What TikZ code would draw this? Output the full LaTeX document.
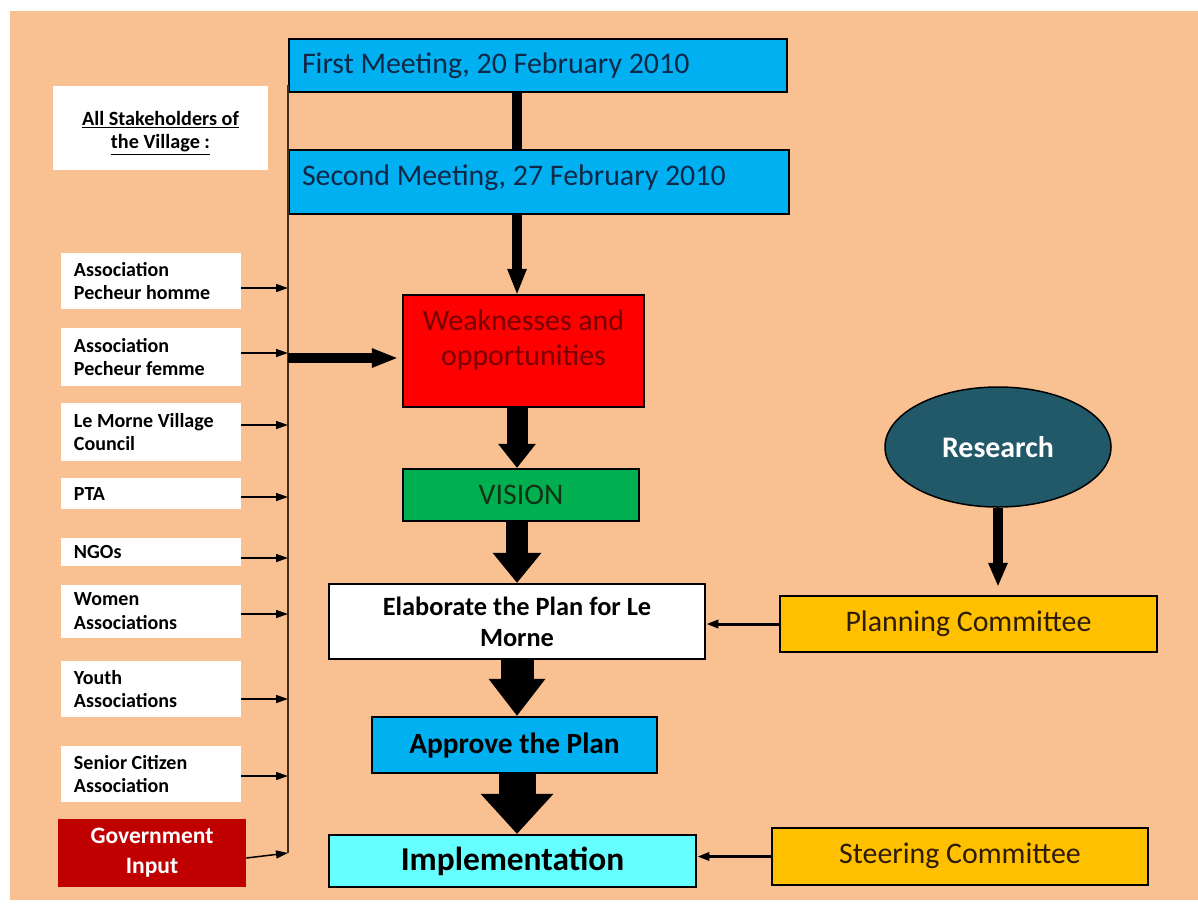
\documentclass[tikz,border=0pt]{standalone}
\usepackage{fontspec}
\setmainfont{Carlito}
\usepackage{tikz}
\usetikzlibrary{positioning,arrows.meta,shapes.geometric}
\usepackage{xcolor}
\definecolor{peach}{RGB}{249,192,145}
\definecolor{meetblue}{RGB}{0,176,240}
\definecolor{navytext}{RGB}{16,40,72}
\definecolor{weakred}{RGB}{255,0,0}
\definecolor{weaktext}{RGB}{120,0,0}
\definecolor{visiongreen}{RGB}{0,176,80}
\definecolor{visiontext}{RGB}{20,50,20}
\definecolor{implcyan}{RGB}{102,255,255}
\definecolor{cttee}{RGB}{255,192,0}
\definecolor{ctteetext}{RGB}{45,28,10}
\definecolor{researchteal}{RGB}{33,89,104}
\definecolor{govred}{RGB}{192,0,0}
\definecolor{busline}{RGB}{70,45,30}

\begin{document}
\begin{tikzpicture}[x=0.2mm,y=-0.2mm,>={Triangle[length=2.4mm,width=1.6mm]},
  stepbox/.style={draw=black,line width=0.5mm,inner sep=0pt},
  holder/.style={fill=white,align=flush left,text width=30.8mm,inner xsep=2.6mm,inner ysep=0pt,font=\bfseries\fontsize{11.4pt}{13.6pt}\selectfont},
  bigfont/.style={font=\fontsize{17pt}{20pt}\selectfont},
  feed/.style={->,line width=0.3mm},
  fat/.style n args={3}{line width=#1,-{Triangle[width=#2,length=#3,line width=0pt]}}]
\fill[white] (0,0) rectangle (1198,904);
\fill[peach] (10,11) rectangle (1198,900);
\useasboundingbox (0,0) rectangle (1198,904);

% stakeholders
\node[fill=white,align=flush center,text width=43mm,inner sep=0pt,text height=7.8mm,text depth=9mm,font=\bfseries\fontsize{11.5pt}{13.6pt}\selectfont] (stakeall) at (160.5,128) {\underline{All Stakeholders of}\\\underline{the Village :}};
\node[holder,minimum height=11.2mm] (homme) at (151,281) {Association\\Pecheur homme};
\node[holder,minimum height=11.6mm] (femme) at (151,357) {Association\\Pecheur femme};
\node[holder,minimum height=11.6mm] (council) at (151,432) {Le Morne Village\\Council};
\node[holder,minimum height=6.2mm] (pta) at (151,493.5) {PTA};
\node[holder,minimum height=5.6mm] (ngo) at (151,552) {NGOs};
\node[holder,minimum height=10.6mm] (women) at (151,611.5) {Women\\Associations};
\node[holder,minimum height=11.2mm] (youth) at (151,689) {Youth\\Associations};
\node[holder,minimum height=11.2mm] (senior) at (151,774) {Senior Citizen\\Association};
\node[fill=govred,text=white,align=center,minimum width=37.6mm,minimum height=13.6mm,inner sep=0pt,font=\bfseries\fontsize{13.4pt}{17pt}\selectfont] (govt) at (152,853) {Government\\Input};

% main flow
\node[stepbox,fill=meetblue,text=navytext,bigfont,align=flush left,text width=94.4mm,inner xsep=2.6mm,text height=6.8mm,text depth=3.8mm] (first) at (538,65.5) {First Meeting, 20 February 2010};
\node[stepbox,fill=meetblue,text=navytext,bigfont,align=flush left,text width=94.8mm,inner xsep=2.6mm,text height=7mm,text depth=5.8mm] (second) at (539,182) {Second Meeting, 27 February 2010};
\node[stepbox,fill=weakred,text=weaktext,font=\fontsize{17pt}{7mm}\selectfont,align=flush center,text width=48.2mm,text height=7mm,text depth=15.4mm] (weak) at (523.5,351) {Weaknesses and\\opportunities};
\node[stepbox,fill=visiongreen,text=visiontext,bigfont,minimum width=47.2mm,minimum height=10.4mm] (vision) at (521,495) {VISION};
\node[stepbox,fill=white,align=center,minimum width=75.2mm,minimum height=15mm,font=\bfseries\fontsize{15pt}{17.6pt}\selectfont] (elab) at (517,621.5) {Elaborate the Plan for Le\\Morne};
\node[stepbox,fill=meetblue,minimum width=57mm,minimum height=11.2mm,font=\bfseries\fontsize{16.7pt}{20pt}\selectfont] (approve) at (514.5,745) {Approve the Plan};
\node[stepbox,fill=implcyan,minimum width=73.4mm,minimum height=10.4mm,font=\bfseries\fontsize{19pt}{22pt}\selectfont] (impl) at (512.5,861) {Implementation};

% right side
\node[ellipse,draw=black,line width=0.3mm,fill=researchteal,text=white,minimum width=45.2mm,minimum height=24mm,inner sep=0pt,font=\bfseries\fontsize{17pt}{20pt}\selectfont] (research) at (998,447) {Research};
\node[stepbox,fill=cttee,text=ctteetext,bigfont,minimum width=75.4mm,minimum height=11.2mm,text height=4.4mm,text depth=1.6mm] (planning) at (968.5,624) {Planning Committee};
\node[stepbox,fill=cttee,text=ctteetext,bigfont,minimum width=75.2mm,minimum height=11.4mm,text height=4.4mm,text depth=1.6mm] (steering) at (960,856.5) {Steering Committee};

% connectors
\coordinate (spine) at (517,0);
\coordinate (bustop) at (288,85);
\coordinate (busend) at (288,853);
\draw[line width=0.3mm,draw=busline] (bustop) -- (busend);
\foreach \src/\dy in {homme/1.4,femme/-0.8,council/-1.4,pta/0.7,ngo/1.2,women/0.5,youth/2.0,senior/0.4}
  \draw[feed] ([yshift=-\dy mm]\src.east) -- ([yshift=-\dy mm]\src.east -| bustop);
\draw[feed] ([yshift=-1mm]govt.east) -- (busend);
\draw[fat={2mm}{4mm}{5mm}] ([yshift=-1.4mm]weak.west -| bustop) -- ([yshift=-1.4mm,xshift=-1mm]weak.west);
\draw[line width=2mm] (first.south -| spine) -- (second.north -| spine);
\draw[fat={2mm}{4mm}{5mm}] (second.south -| spine) -- (weak.north -| spine);
\draw[fat={4.2mm}{7.6mm}{4.8mm}] (weak.south -| spine) -- (vision.north -| spine);
\draw[fat={4.4mm}{9.8mm}{6mm}] (vision.south -| spine) -- (elab.north -| spine);
\draw[fat={6.6mm}{11.4mm}{7.4mm}] (elab.south -| spine) -- (approve.north -| spine);
\draw[fat={7.4mm}{14.6mm}{8mm}] (approve.south -| spine) -- (impl.north -| spine);
\draw[fat={2mm}{4mm}{4.6mm},shorten >=1.8mm] (research.south) -- (research.south |- planning.north);
\draw[->,line width=0.6mm] (planning.west) -- (planning.west -| elab.east);
\draw[->,line width=0.6mm] (steering.west) -- (steering.west -| impl.east);
\end{tikzpicture}
\end{document}
